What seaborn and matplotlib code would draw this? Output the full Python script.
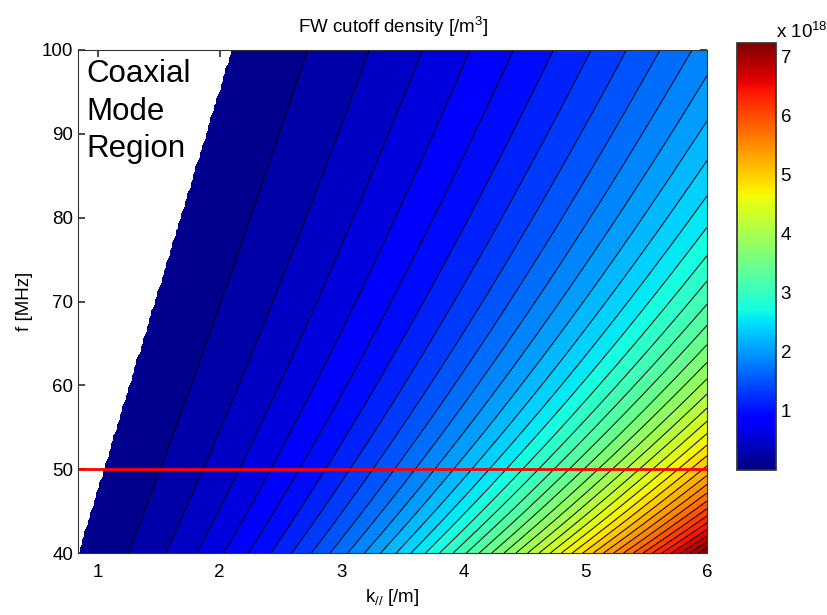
import matplotlib
matplotlib.use("Agg")
import matplotlib.pyplot as plt
import matplotlib.colors as mcolors
import matplotlib.cm as cm
import seaborn as sns
import numpy as np
import pandas as pd

# grid of the density map
k_par = np.linspace(0.838, 6.0, 300)      # k_// [/m]
freq_mhz = np.linspace(40.0, 100.0, 126)  # f [MHz]
f_operating = 50.0                        # red line [MHz]

# plasma parameters, fitted to the colour scale and contour spacing
ion_mass_amu = 2.27
f_ci_mhz = 36.4

x_ticks = [1, 2, 3, 4, 5, 6]
y_ticks = [40, 50, 60, 70, 80, 90, 100]
cbar_ticks = [1, 2, 3, 4, 5, 6, 7]
n_lines = 40

# FW cutoff (n_//^2 = R), coaxial region where k_// < w/c is blanked
c, eps0, m_p, e = 2.998e8, 8.854e-12, 1.673e-27, 1.602e-19
K, F = np.meshgrid(k_par, freq_mhz)
k0 = 2 * np.pi * F * 1e6 / c
r = f_ci_mhz / F
dens = eps0 * ion_mass_amu * m_p * c**2 / e**2 * (K**2 - k0**2) * r * (1 + r) / 1e18
dens = np.ma.masked_where(K < k0, dens)

sns.set_theme(style="ticks")
plt.rcParams["font.family"] = ["Liberation Sans", "DejaVu Sans"]
plt.rcParams["mathtext.fontset"] = "custom"
plt.rcParams["mathtext.rm"] = "Liberation Sans"
plt.rcParams["mathtext.it"] = "Liberation Sans:italic"
for key in ["text.color", "axes.labelcolor", "xtick.labelcolor", "ytick.labelcolor"]:
    plt.rcParams[key] = "black"

fig = plt.figure(figsize=(8.28, 6.15), dpi=100)
ax = fig.add_axes([0.0942, 0.1008, 0.7597, 0.8179])

zmin, zmax = dens.min(), dens.max()
levels = np.linspace(zmin, zmax, n_lines + 2)
ax.contourf(K, F, dens, levels=levels, cmap="jet", vmin=zmin, vmax=zmax)
ax.contour(K, F, dens, levels=levels[1:-1], colors="black", linewidths=0.7)

line_df = pd.DataFrame({"k": [k_par[0], k_par[-1]], "f": [f_operating, f_operating]})
sns.lineplot(data=line_df, x="k", y="f", color="red", linewidth=2, ax=ax)

ax.text(0.905, 98.9, "Coaxial\nMode\nRegion", fontsize=22.5, va="top", ha="left",
        linespacing=1.32)

ax.set_xlim(k_par[0], k_par[-1])
ax.set_ylim(freq_mhz[0], freq_mhz[-1])
ax.set_xticks(x_ticks)
ax.set_yticks(y_ticks)
ax.tick_params(direction="in", top=True, right=True, length=5, labelsize=13.5, color="#333333")
ax.tick_params(axis="x", pad=8)
for s in ax.spines.values():
    s.set_color("#333333")
    s.set_linewidth(0.8)
ax.set_xlabel(r"k$_{//}$ [/m]", fontsize=13.5, labelpad=4)
ax.set_ylabel("f [MHz]", fontsize=13.5, labelpad=6)
ax.set_title(r"FW cutoff density [/m$^3$]", fontsize=13.5, pad=12)

cax = fig.add_axes([0.890, 0.236, 0.047, 0.694])
sm = cm.ScalarMappable(norm=mcolors.Normalize(vmin=zmin, vmax=zmax), cmap="jet")
cb = fig.colorbar(sm, cax=cax, ticks=cbar_ticks)
cb.outline.set_edgecolor("#333333")
cax.tick_params(direction="in", left=True, right=True, length=5, labelsize=13.5, color="#333333")
fig.text(0.937, 0.938, r"x 10$^{18}$", fontsize=13.5, ha="left", va="baseline")

fig.savefig("out.png", dpi=100)
